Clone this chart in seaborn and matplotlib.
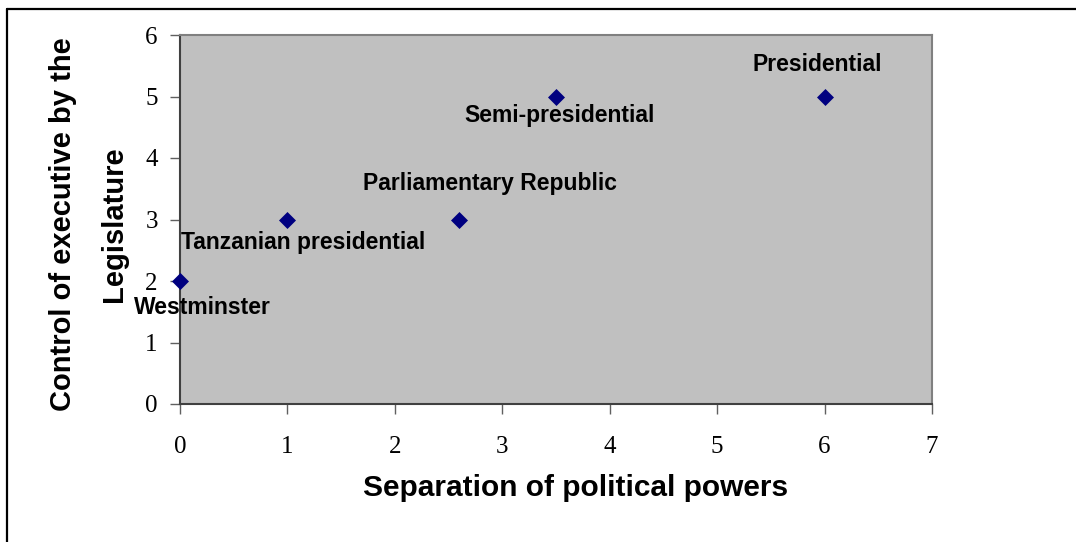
import matplotlib
matplotlib.use("Agg")
import matplotlib.pyplot as plt
from matplotlib.lines import Line2D
import seaborn as sns
import pandas as pd

# Government systems placed by separation of powers vs. legislative control
systems = ["Westminster", "Tanzanian presidential", "Parliamentary Republic",
           "Semi-presidential", "Presidential"]
separation = [0, 1, 2.6, 3.5, 6]
control = [2, 3, 3, 5, 5]

x_ticks = [0, 1, 2, 3, 4, 5, 6, 7]
y_ticks = [0, 1, 2, 3, 4, 5, 6]

# Label placement relative to each point (offset in pixels, +y is up)
label_offsets = [(22, -26), (16, -23), (31, 36), (4, -19), (-7, 32)]

df = pd.DataFrame({"system": systems, "separation": separation, "control": control})

sns.set_theme(style="white")
plt.rcParams["font.family"] = ["Liberation Sans", "DejaVu Sans"]
plt.rcParams["text.color"] = "black"
plt.rcParams["axes.labelcolor"] = "black"
plt.rcParams["xtick.labelcolor"] = "black"
plt.rcParams["ytick.labelcolor"] = "black"

fig = plt.figure(figsize=(10.76, 5.42), dpi=100)
ax = fig.add_axes([180 / 1076, 1 - 404 / 542, 752 / 1076, 369 / 542])
ax.set_facecolor("#C0C0C0")

sns.scatterplot(data=df, x="separation", y="control", marker="D", s=75,
                color="#000080", edgecolor="#000080", linewidth=0, ax=ax,
                clip_on=False, zorder=5)

for name, xv, yv, (dx, dy) in zip(systems, separation, control, label_offsets):
    ax.annotate(name, xy=(xv, yv), xytext=(dx * 0.72, dy * 0.72),
                textcoords="offset points", ha="center", va="center",
                fontsize=16.5, fontweight="bold", color="black",
                family=["Liberation Sans"], annotation_clip=False, zorder=6)

ax.set_xlim(0, 7)
ax.set_ylim(0, 6)
ax.set_xticks(x_ticks)
ax.set_yticks(y_ticks)
ax.set_xticklabels([str(v) for v in x_ticks], family=["Liberation Serif"], fontsize=18)
ax.set_yticklabels([str(v) for v in y_ticks], family=["Liberation Serif"], fontsize=18)
ax.tick_params(axis="both", direction="out", length=7, width=1, color="#606060",
               labelcolor="black", bottom=True, left=True)
ax.tick_params(axis="x", pad=16)
ax.tick_params(axis="y", pad=9)

for side in ["left", "bottom"]:
    ax.spines[side].set_color("#404040")
    ax.spines[side].set_linewidth(1.5)
for side in ["top", "right"]:
    ax.spines[side].set_color("#808080")
    ax.spines[side].set_linewidth(1.5)

ax.set_xlabel("Separation of political powers", fontsize=21.5, fontweight="bold",
              color="black")
ax.xaxis.label.set_va("center")
ax.xaxis.set_label_coords((576 - 180) / 752, -(488 - 404) / 369)

ax.set_ylabel("Control of executive by the\nLegislature", fontsize=21,
              fontweight="bold", linespacing=2.0, color="black")
ax.yaxis.label.set_va("center")
ax.yaxis.set_label_coords((88.5 - 180) / 752, (404 - 224) / 369)

# Outer frame: top and left edges only
fig.add_artist(Line2D([7 / 1076, 1], [1 - 8.5 / 542, 1 - 8.5 / 542],
                      transform=fig.transFigure, color="black", lw=1.6))
fig.add_artist(Line2D([7 / 1076, 7 / 1076], [0, 1 - 8.5 / 542],
                      transform=fig.transFigure, color="black", lw=1.6))

fig.savefig("out.png", dpi=100)
